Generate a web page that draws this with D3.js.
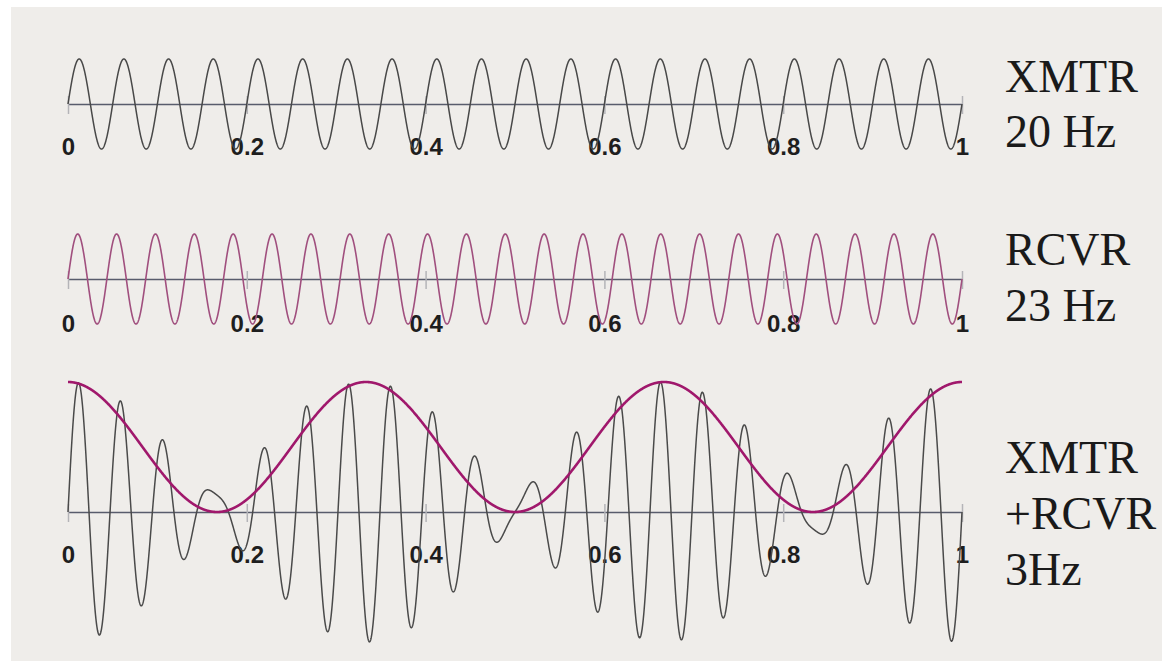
<!DOCTYPE html>
<html>
<head>
<meta charset="utf-8">
<script src="https://cdn.jsdelivr.net/npm/d3@7"></script>
<style>
  body { margin: 0; background: #ffffff; }
  svg { display: block; }
</style>
</head>
<body>
<script>
// tick positions / labels on every time axis (seconds)
const tickValues = [0, 0.2, 0.4, 0.6, 0.8, 1];
const tickLabels = ["0", "0.2", "0.4", "0.6", "0.8", "1"];

// the two tones
const signalNames = ["XMTR", "RCVR"];
const signalFreqs = [20, 23];      // Hz
const signalAmps = [1, 1];
// weights of the tones in the summed trace (residual wiggle at the beat minimum)
const mixWeights = [1.15, 0.85];
const beatFreq = 3;                // Hz, the envelope

const panelTexts = [
  ["XMTR", "20 Hz"],
  ["RCVR", "23 Hz"],
  ["XMTR", "+RCVR", "3Hz"]
];

var width = 1163, height = 661;

var svg = d3.select("body").append("svg")
    .attr("width", width)
    .attr("height", height);

// scanned paper
svg.append("rect")
    .attr("x", 11).attr("y", 7)
    .attr("width", width - 12).attr("height", height - 7)
    .attr("fill", "#efedea");

var x = d3.scaleLinear().domain([0, 1]).range([68, 962]);

// time samples for drawing the traces
var times = d3.range(0, 1 + 1e-9, 1 / 4000);

function tone(i) {
  return function(t) { return signalAmps[i] * Math.sin(2 * Math.PI * signalFreqs[i] * t); };
}
var xmtr = tone(0), rcvr = tone(1);
var summed = function(t) { return mixWeights[0] * xmtr(t) + mixWeights[1] * rcvr(t); };
var envelope = function(t) { return 1 + Math.cos(2 * Math.PI * beatFreq * t); };

var panels = [
  {axisY: 104, half: 45, domain: 1, labelDy: 51, traces: [{f: xmtr, color: "#484848", w: 1.5}]},
  {axisY: 279, half: 45, domain: 1, labelDy: 53, traces: [{f: rcvr, color: "#a04f7e", w: 1.6}]},
  {axisY: 512, half: 130, domain: 2, labelDy: 51, traces: [
      {f: summed, color: "#4a4a4a", w: 1.5},
      {f: envelope, color: "#a0186c", w: 2.6}
  ]}
];

var textY = [[92, 147], [265, 321], [473, 529, 585]];

panels.forEach(function(p, pi) {
  var y = d3.scaleLinear()
      .domain([-p.domain, p.domain])
      .range([p.axisY + p.half, p.axisY - p.half]);

  var g = svg.append("g");

  // time axis
  var axis = g.append("g")
      .attr("transform", "translate(0," + p.axisY + ")")
      .call(d3.axisBottom(x)
        .tickValues(tickValues)
        .tickFormat(function(d, i) { return tickLabels[i]; })
        .tickSize(10)
        .tickSizeOuter(0)
        .tickPadding(p.labelDy - 10));

  axis.select(".domain")
      .attr("stroke", "#585c6c")
      .attr("stroke-width", 1.6);
  axis.selectAll(".tick line")
      .attr("y1", -8)
      .attr("y2", 10)
      .attr("stroke", "#b4b4b8")
      .attr("stroke-width", 1.5);
  axis.selectAll(".tick text")
      .attr("fill", "#1e1e1e")
      .attr("dy", 0)
      .style("font-family", "'Liberation Sans', Arial, sans-serif")
      .style("font-weight", "bold")
      .style("font-size", "24px");

  p.traces.forEach(function(tr) {
    var line = d3.line()
        .x(function(t) { return x(t); })
        .y(function(t) { return y(tr.f(t)); });
    g.append("path")
        .datum(times)
        .attr("fill", "none")
        .attr("stroke", tr.color)
        .attr("stroke-width", tr.w)
        .attr("stroke-linejoin", "round")
        .attr("d", line);
  });

  // label at the right
  panelTexts[pi].forEach(function(s, k) {
    svg.append("text")
        .attr("x", 1005)
        .attr("y", textY[pi][k])
        .attr("fill", "#1a1a1a")
        .style("font-family", "'Liberation Serif', 'Times New Roman', serif")
        .style("font-size", "46px")
        .text(s);
  });
});
</script>
</body>
</html>
